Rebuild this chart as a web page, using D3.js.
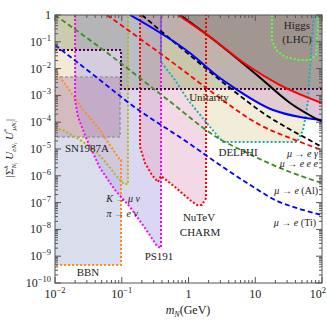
<!DOCTYPE html>
<html><head><meta charset="utf-8">
<script src="https://cdn.jsdelivr.net/npm/d3@7"></script>
<style>body{margin:0;background:#fff}svg{display:block}text{font-family:"Liberation Serif","DejaVu Serif",serif}</style>
</head><body><svg id="c" width="327" height="320"></svg>
<script>
// ---- data: [mass GeV, |U U*|] ----
const bbnEdge = [[0.01,8.87e-3],[0.0263,3.0e-4],[0.0472,5.1e-5],[0.0667,1.4e-5],[0.0942,3.89e-6],[0.0975,3.89e-6],[0.0975,4.7e-10],[0.01,4.7e-10]];
const snEdge = [[0.01,6.08e-5],[0.0141,4.7e-5],[0.0237,2.17e-5],[0.0397,9.18e-6],[0.0622,2.53e-6],[0.0879,8.28e-7],[0.108,4.94e-7],[0.124,4.94e-7],[0.124,1]];
const rectEdge = [[0.01,4.86e-3],[0.0942,4.86e-3],[0.0942,2.81e-5],[0.01,2.81e-5],[0.01,4.86e-3]];
const ps191Edge = [[0.02,1],[0.02,6.73e-4],[0.0221,1.56e-4],[0.0301,2.17e-5],[0.0472,1.95e-6],[0.0792,2.95e-7],[0.133,6.85e-8],[0.223,1.13e-8],[0.337,2.4e-9],[0.387,2.02e-9],[0.387,1]];
const charmEdge = [[0.188,1],[0.188,1.19e-5],[0.223,3.01e-6],[0.284,1.07e-6],[0.349,5.87e-7],[0.387,9.84e-7],[0.628,3.82e-7],[1.05,1.25e-7],[1.34,8.13e-8],[1.59,8.13e-8],[1.83,1.48e-7],[1.83,1]];
const delphiEdge = [[0.387,1],[0.387,0.0176],[0.628,0.00376],[0.984,6.73e-4],[2.10,6.62e-5],[3.29,1.82e-5],[42.3,1.82e-5],[51.9,5.12e-5],[57.5,1.86e-4],[61.7,6.73e-4],[70.8,0.117],[75.9,1]];
const higgsEdge = [[17.8,1],[17.8,0.117],[20.5,0.0494],[27.9,0.0271],[46.8,0.0209],[66.1,0.0209],[81.3,0.0322],[87.1,0.424],[90.2,1]];
const unitarityEdge = [[0.01,0.0494],[0.0975,0.0494],[0.0975,0.00173],[100,0.00173]];

const blueDashed = [[0.01,0.076],[0.0667,0.00189],[0.112,6.73e-4],[1.05,1.54e-5],[2.96,2.53e-6],[9.91,3.51e-7],[19.8,1.25e-7],[46.8,5.77e-8],[100,3.44e-8]];
const greenDashed = [[0.01,1],[0.0667,0.0322],[0.493,6.73e-4],[2.77,2.57e-5],[7.02,7.73e-6],[33.2,1.39e-6],[100,5.38e-7]];
const redDashed = [[0.0601,1],[0.746,0.0105],[2.33,1.23e-3],[11.8,7.87e-5],[39.4,2.17e-5],[100,9.18e-6]];
const blackDashed = [[0.201,1],[0.746,0.064],[4.19,1.89e-3],[13.1,2.2e-4],[73.3,1.82e-5],[100,1.19e-5]];
const blueSolid = [[0.133,1],[1.05,0.0382],[2.96,4.46e-3],[4.19,2.44e-3],[18.5,2.85e-4],[46.8,1.56e-4],[100,1.21e-4]];
const redSolid = [[0.697,1],[2.10,0.151],[7.52,0.0136],[23.5,2.44e-3],[100,5.2e-4]];
const blackSolid = [[0.746,1],[2.10,0.151],[10.6,5.77e-3],[33.2,5.2e-4],[100,1.02e-4]];

const xTicks = [0.01,0.1,1,10,100];
const xTickLabels = [["10","−2"],["10","−1"],["1",""],["10",""],["10","2"]];
const yTicks = [1,1e-1,1e-2,1e-3,1e-4,1e-5,1e-6,1e-7,1e-8,1e-9,1e-10];
const yTickLabels = [["1",""],["10","−1"],["10","−2"],["10","−3"],["10","−4"],["10","−5"],["10","−6"],["10","−7"],["10","−8"],["10","−9"],["10","−10"]];

const labels = [
 {t:"Higgs",x:297,y:29,a:"middle"},{t:"(LHC)",x:297,y:43,a:"middle"},
 {t:"Unitarity",x:209,y:101,a:"middle"},
 {t:"SN1987A",x:87,y:152,a:"middle"},
 {t:"DELPHI",x:238,y:156,a:"middle"},
 {t:"NuTeV",x:199,y:221,a:"middle"},{t:"CHARM",x:200,y:236,a:"middle"},
 {t:"PS191",x:159,y:260,a:"middle"},
 {t:"BBN",x:88,y:276,a:"middle"}
];
const procLabels = [
 {p:["μ"," → ","e"," ","γ"],x:318,y:157},{p:["μ"," → ","e e e"],x:318,y:167},
 {p:["μ"," → ","e"," (Al)"],x:318,y:194},{p:["μ"," → ","e"," (Ti)"],x:316,y:226},
 {p:["K"," → ","μ ν"],x:140,y:202},{p:["π"," → ","e ν"],x:138,y:217}
];

// ---- drawing ----
const L=55,R=322,T=15,B=283;
const svg = d3.select("#c");
const x = d3.scaleLog().domain([0.01,100]).range([L,R]);
const y = d3.scaleLog().domain([1e-10,1]).range([B,T]);
svg.append("defs").append("clipPath").attr("id","clip").append("rect").attr("x",L).attr("y",T).attr("width",R-L).attr("height",B-T);
const g = svg.append("g").attr("clip-path","url(#clip)");
const lin = d3.line().x(d=>x(d[0])).y(d=>y(d[1]));
const smooth = d3.line().x(d=>x(d[0])).y(d=>y(d[1])).curve(d3.curveMonotoneX);
const above = d3.area().x(d=>x(d[0])).y0(T).y1(d=>y(d[1])).curve(d3.curveMonotoneX);

function fillPoly(pts, col, op){ g.append("path").attr("d", lin(pts)+"Z").attr("fill",col).attr("fill-opacity",op); }
fillPoly(bbnEdge,"#d9ddec",1);
fillPoly(snEdge.concat([[0.01,1]]),"#efe2c8",0.75);
fillPoly(ps191Edge,"#b8b0e6",0.5);
fillPoly(charmEdge,"#e8b4cc",0.5);
fillPoly(delphiEdge,"#ece6c8",0.7);
fillPoly(rectEdge,"#a06494",0.3);
g.append("path").attr("d",above(blueSolid)).attr("fill","#c88cc8").attr("fill-opacity",0.35);
g.append("path").attr("d",above(blackSolid)).attr("fill","#966482").attr("fill-opacity",0.15);
g.append("path").attr("d",above(redSolid)).attr("fill","#645050").attr("fill-opacity",0.22);
fillPoly(higgsEdge,"#888",0.1);
fillPoly(unitarityEdge.concat([[100,1],[0.01,1]]),"#506e3c",0.24);

function dotted(pts,col,dash,w){ g.append("path").attr("d",lin(pts)).attr("fill","none").attr("stroke",col).attr("stroke-width",w||2).attr("stroke-dasharray",dash||"2,2"); }
dotted(rectEdge,"#9a9a9a","3,2",1.6);
dotted(bbnEdge,"#ff8c1a");
dotted(snEdge,"#b4b414");
dotted(ps191Edge,"#ff00ff");
dotted(charmEdge,"#ff0000");
dotted(delphiEdge,"#1eaab4");
dotted(higgsEdge,"#5cff3a");
dotted(unitarityEdge,"#4d004d");

function curve(pts,col,dash){ const p=g.append("path").attr("d",smooth(pts)).attr("fill","none").attr("stroke",col).attr("stroke-width",dash?1.8:2); if(dash) p.attr("stroke-dasharray",dash); }
curve(blueDashed,"#0000ff","5,3");
curve(greenDashed,"#3c8c1e","5,3");
curve(redDashed,"#ff0000","5,3");
curve(blackDashed,"#000","5,3");
curve(blueSolid,"#0000ff");
curve(blackSolid,"#000");
curve(redSolid,"#ff0000");

// labels
labels.forEach(l=>svg.append("text").attr("x",l.x).attr("y",l.y).attr("text-anchor",l.a).attr("font-size",11).attr("fill","#222").text(l.t));
procLabels.forEach(l=>{const t=svg.append("text").attr("x",l.x).attr("y",l.y).attr("text-anchor","end").attr("font-size",10).attr("fill","#222");
 l.p.forEach((s,i)=>t.append("tspan").attr("font-style",(i%2===0)?"italic":"normal").text(s));});

// axes frame & ticks
const ax = svg.append("g").attr("stroke","#555").attr("stroke-width",1);
ax.append("rect").attr("x",L).attr("y",T).attr("width",R-L).attr("height",B-T).attr("fill","none");
const xMinor=[], yMinor=[];
for(let e=-2;e<2;e++) for(let k=2;k<10;k++) xMinor.push(k*Math.pow(10,e));
for(let e=-10;e<0;e++) for(let k=2;k<10;k++) yMinor.push(k*Math.pow(10,e));
xTicks.forEach(v=>{ax.append("line").attr("x1",x(v)).attr("x2",x(v)).attr("y1",B).attr("y2",B-6);ax.append("line").attr("x1",x(v)).attr("x2",x(v)).attr("y1",T).attr("y2",T+6);});
xMinor.forEach(v=>{ax.append("line").attr("x1",x(v)).attr("x2",x(v)).attr("y1",B).attr("y2",B-3);ax.append("line").attr("x1",x(v)).attr("x2",x(v)).attr("y1",T).attr("y2",T+3);});
yTicks.forEach(v=>{ax.append("line").attr("y1",y(v)).attr("y2",y(v)).attr("x1",L).attr("x2",L+6);ax.append("line").attr("y1",y(v)).attr("y2",y(v)).attr("x1",R).attr("x2",R-6);});
yMinor.forEach(v=>{ax.append("line").attr("y1",y(v)).attr("y2",y(v)).attr("x1",L).attr("x2",L+3);ax.append("line").attr("y1",y(v)).attr("y2",y(v)).attr("x1",R).attr("x2",R-3);});

xTicks.forEach((v,i)=>{const last=i===xTicks.length-1;
 const t=svg.append("text").attr("x",last?326:x(v)).attr("y",298).attr("text-anchor",last?"end":"middle").attr("font-size",12).attr("fill","#222");
 t.append("tspan").text(xTickLabels[i][0]); if(xTickLabels[i][1]) t.append("tspan").attr("dy",-5).attr("font-size",8.5).text(xTickLabels[i][1]);});
yTicks.forEach((v,i)=>{const t=svg.append("text").attr("x",51).attr("y",y(v)+4).attr("text-anchor","end").attr("font-size",12).attr("fill","#222");
 t.append("tspan").text(yTickLabels[i][0]); if(yTickLabels[i][1]) t.append("tspan").attr("dy",-5).attr("font-size",8.5).text(yTickLabels[i][1]);});

// axis titles
const xt = svg.append("text").attr("x",188).attr("y",314).attr("text-anchor","middle").attr("font-size",12).attr("fill","#222");
xt.append("tspan").attr("font-style","italic").text("m");
xt.append("tspan").attr("font-style","italic").attr("font-size",8).attr("dy",3).text("N");
xt.append("tspan").attr("dy",-3).text("(GeV)");

const yt = svg.append("text").attr("transform","translate(13,148) rotate(-90)").attr("text-anchor","middle").attr("font-size",11).attr("fill","#222");
yt.append("tspan").text("|Σ");
yt.append("tspan").attr("font-size",7).attr("dy",-5).attr("font-style","italic").text("k");
yt.append("tspan").attr("font-size",7).attr("dy",8).attr("dx",-3).attr("font-style","italic").text("N");
yt.append("tspan").attr("font-size",5).attr("dy",1).attr("font-style","italic").text("i");
yt.append("tspan").attr("dy",-4).attr("font-style","italic").text(" U");
yt.append("tspan").attr("font-size",7).attr("dy",3).attr("font-style","italic").text("eN");
yt.append("tspan").attr("font-size",5).attr("dy",1).attr("font-style","italic").text("i");
yt.append("tspan").attr("dy",-4).attr("font-style","italic").text(" U");
yt.append("tspan").attr("font-size",7).attr("dy",-5).text("*");
yt.append("tspan").attr("font-size",7).attr("dy",8).attr("dx",-2).attr("font-style","italic").text("μN");
yt.append("tspan").attr("font-size",5).attr("dy",1).attr("font-style","italic").text("i");
yt.append("tspan").attr("dy",-4).text("|");
</script></body></html>
